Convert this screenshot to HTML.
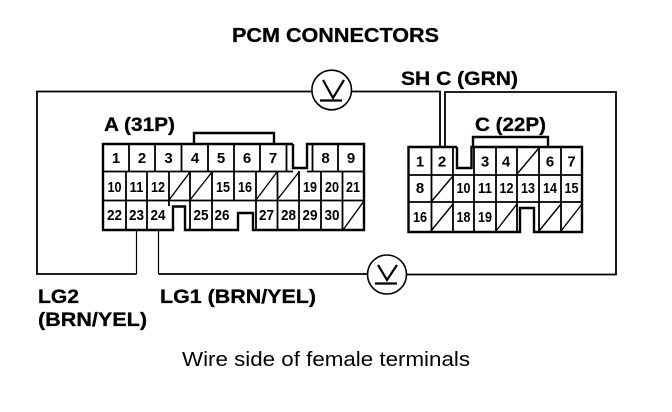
<!DOCTYPE html>
<html><head><meta charset="utf-8"><style>
html,body{margin:0;padding:0;background:#fff;width:672px;height:412px;overflow:hidden}
svg{display:block}
text{font-family:"Liberation Sans",sans-serif;fill:#000}
.b{font-weight:bold;font-size:19.5px;stroke:#000;stroke-width:.3}
.n{font-size:15px;font-weight:bold;text-anchor:middle}
.o{stroke:#000;stroke-width:2.4;fill:none}
.i{stroke:#000;stroke-width:1.8;fill:none}
.s{stroke:#000;stroke-width:1.4;fill:none}
.w{stroke:#000;stroke-width:1.8;fill:none}
.t{stroke:#000;stroke-width:1.2;fill:none}
</style></head><body>
<svg width="672" height="412" viewBox="0 0 672 412" xmlns="http://www.w3.org/2000/svg">
<text class="b" x="232" y="42" textLength="207" lengthAdjust="spacingAndGlyphs" style="font-size:20.5px">PCM CONNECTORS</text>
<text class="b" x="401" y="85" textLength="117" lengthAdjust="spacingAndGlyphs">SH C (GRN)</text>
<text class="b" x="104" y="131" textLength="71" lengthAdjust="spacingAndGlyphs">A (31P)</text>
<text class="b" x="475" y="131" textLength="71" lengthAdjust="spacingAndGlyphs">C (22P)</text>
<text class="b" x="38" y="303" textLength="41" lengthAdjust="spacingAndGlyphs">LG2</text>
<text class="b" x="38" y="326" textLength="109" lengthAdjust="spacingAndGlyphs">(BRN/YEL)</text>
<text class="b" x="160" y="303" textLength="156" lengthAdjust="spacingAndGlyphs">LG1 (BRN/YEL)</text>
<text x="182" y="366" textLength="288" lengthAdjust="spacingAndGlyphs" style="font-size:20.5px">Wire side of female terminals</text>

<!-- wires -->
<path class="w" d="M312 91.500H37V274H136.500"/>
<path class="t" d="M136.500 274V230"/>
<path class="t" d="M158.500 230V274"/>
<path class="w" d="M158.500 274H367"/>
<path class="w" d="M407 274.500H616V92H445V147"/>
<path class="w" d="M352 91.500H440V147"/>
<circle class="t" cx="331.700" cy="90" r="19.800" style="stroke-width:1.600"/>
<path class="w" d="M323 80L333 98L344 80M320 100.500H342" style="stroke-width:2.200"/>
<circle class="t" cx="387" cy="274.500" r="19.500" style="stroke-width:1.600"/>
<path class="w" d="M378 265L387 280L397 265M375 283.500H397" style="stroke-width:2.200"/>

<!-- connector A -->
<path class="o" d="M293 144H103V230H173V206.500H185V230H238V213H253V230H364V144H307V168H293V144"/>
<path class="o" d="M194 144V133H274V144"/>
<path class="i" d="M103 171.500H293M307 171.500H364M103 200.500H364"/>
<path class="i" d="M129 144V171M155 144V171M181.500 144V171M208 144V171M234 144V171M260 144V171M286.500 144V171M312.500 144V171M338 144V171"/>
<path class="i" d="M126 171V230M147 171V230M169 171V206M190 171V230M212 171V230M234 171V200M256 171V230M277.500 171V230M299 171V230M321 171V230M342.500 171V230"/>
<path class="s" d="M169 200L190 172M190 200L212 172M256 200L277 172M277 200L299 172M343 230L364 201"/>
<text class="n" x="116" y="163">1</text><text class="n" x="142" y="163">2</text><text class="n" x="168.500" y="163">3</text><text class="n" x="195" y="163">4</text><text class="n" x="221" y="163">5</text><text class="n" x="247" y="163">6</text><text class="n" x="273" y="163">7</text><text class="n" x="325.500" y="163">8</text><text class="n" x="351" y="163">9</text>
<text class="n" x="114.500" y="192" textLength="14" lengthAdjust="spacingAndGlyphs">10</text><text class="n" x="136.500" y="192" textLength="14" lengthAdjust="spacingAndGlyphs">11</text><text class="n" x="158" y="192" textLength="14" lengthAdjust="spacingAndGlyphs">12</text><text class="n" x="223" y="192" textLength="14" lengthAdjust="spacingAndGlyphs">15</text><text class="n" x="245" y="192" textLength="14" lengthAdjust="spacingAndGlyphs">16</text><text class="n" x="310" y="192" textLength="14" lengthAdjust="spacingAndGlyphs">19</text><text class="n" x="332" y="192" textLength="14" lengthAdjust="spacingAndGlyphs">20</text><text class="n" x="353" y="192" textLength="14" lengthAdjust="spacingAndGlyphs">21</text>
<text class="n" x="114.500" y="220" textLength="15" lengthAdjust="spacingAndGlyphs">22</text><text class="n" x="136.500" y="220" textLength="15" lengthAdjust="spacingAndGlyphs">23</text><text class="n" x="158" y="220" textLength="15" lengthAdjust="spacingAndGlyphs">24</text><text class="n" x="201" y="220" textLength="15" lengthAdjust="spacingAndGlyphs">25</text><text class="n" x="222" y="220" textLength="15" lengthAdjust="spacingAndGlyphs">26</text><text class="n" x="266.500" y="220" textLength="15" lengthAdjust="spacingAndGlyphs">27</text><text class="n" x="288.500" y="220" textLength="15" lengthAdjust="spacingAndGlyphs">28</text><text class="n" x="310" y="220" textLength="15" lengthAdjust="spacingAndGlyphs">29</text><text class="n" x="332" y="220" textLength="15" lengthAdjust="spacingAndGlyphs">30</text>

<!-- connector C -->
<path class="o" d="M457 147H408.500V232H520V208H534V232H582V147H471.500V168H457V147"/>
<path class="o" d="M473 147V137H548V147"/>
<path class="i" d="M408 175H582M408 202H582"/>
<path class="i" d="M431.500 147V232M453 147V232M474 147V232M496 147V232M517 147V232M539 147V232M561 147V232"/>
<path class="s" d="M517 174L539 148M431 202L453 176M431 231L453 204M496 231L517 204M539 231L561 204M561 231L582 204"/>
<text class="n" x="420" y="166.500">1</text><text class="n" x="442" y="166.500">2</text><text class="n" x="485" y="166.500">3</text><text class="n" x="506" y="166.500">4</text><text class="n" x="550" y="166.500">6</text><text class="n" x="571.500" y="166.500">7</text>
<text class="n" x="420" y="193">8</text><text class="n" x="463.500" y="193" textLength="14" lengthAdjust="spacingAndGlyphs">10</text><text class="n" x="485" y="193" textLength="14" lengthAdjust="spacingAndGlyphs">11</text><text class="n" x="506.500" y="193" textLength="14" lengthAdjust="spacingAndGlyphs">12</text><text class="n" x="528" y="193" textLength="14" lengthAdjust="spacingAndGlyphs">13</text><text class="n" x="550" y="193" textLength="14" lengthAdjust="spacingAndGlyphs">14</text><text class="n" x="571.500" y="193" textLength="14" lengthAdjust="spacingAndGlyphs">15</text>
<text class="n" x="420" y="222" textLength="14" lengthAdjust="spacingAndGlyphs">16</text><text class="n" x="463.500" y="222" textLength="14" lengthAdjust="spacingAndGlyphs">18</text><text class="n" x="485" y="222" textLength="14" lengthAdjust="spacingAndGlyphs">19</text>
</svg>
</body></html>
